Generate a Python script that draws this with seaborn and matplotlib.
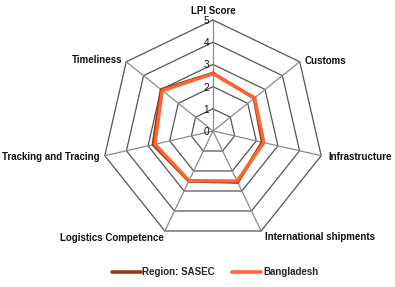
import numpy as np
import pandas as pd
import matplotlib
matplotlib.use("Agg")
import matplotlib.pyplot as plt
from matplotlib.lines import Line2D
import seaborn as sns

categories = ["LPI Score", "Customs", "Infrastructure", "International shipments",
              "Logistics Competence", "Tracking and Tracing", "Timeliness"]
sasec = [2.60, 2.38, 2.28, 2.56, 2.50, 2.76, 2.98]
bangladesh = [2.58, 2.40, 2.35, 2.50, 2.48, 2.68, 2.92]
series_names = ["Region: SASEC", "Bangladesh"]
r_ticks = [0, 1, 2, 3, 4, 5]

sns.set_style("white")
plt.rcParams["font.family"] = ["Liberation Sans", "DejaVu Sans"]

colors = {"Region: SASEC": "#9c3a0e", "Bangladesh": "#ff6633"}

n = len(categories)
angles = np.linspace(0, 2 * np.pi, n, endpoint=False)
closed = np.append(angles, 2 * np.pi)

rows = []
for name, vals in zip(series_names, [sasec, bangladesh]):
    for a, v in zip(closed, list(vals) + [vals[0]]):
        rows.append({"theta": a, "value": v, "series": name})
df = pd.DataFrame(rows)

fig = plt.figure(figsize=(3.95, 2.87), dpi=100)
ax = fig.add_axes([0.2582, 0.1568, 0.562, 0.7735], projection="polar")
ax.set_theta_offset(np.pi / 2)
ax.set_theta_direction(-1)
ax.set_ylim(0, max(r_ticks))
ax.grid(False)
ax.spines["polar"].set_visible(False)
ax.set_xticks([])
ax.set_yticks([])

for r in r_ticks[1:]:
    ax.plot(closed, [r] * (n + 1), color="#555555", lw=0.9, zorder=1, clip_on=False)
for a in angles:
    ax.plot([a, a], [0, max(r_ticks)], color="#8a8a8a", lw=0.9, zorder=1, clip_on=False)

sns.lineplot(data=df, x="theta", y="value", hue="series", hue_order=series_names,
             palette=colors, sort=False, linewidth=2.4, ax=ax, legend=False, zorder=3)
ax.set_xlabel("")
ax.set_ylabel("")

for r in r_ticks:
    ax.annotate(str(r), xy=(0, r), xytext=(-4, -1), textcoords="offset pixels",
                ha="right", va="center", fontsize=7.2, color="#111111")

label_pos = [
    ((0, 4), "center", "bottom"),
    ((5, 1), "left", "center"),
    ((7, -1), "left", "center"),
    ((4, -1), "left", "top"),
    ((-1, -2), "right", "top"),
    ((-5, -1), "right", "center"),
    ((-4, 2), "right", "center"),
]
for a, cat, (off, ha, va) in zip(angles, categories, label_pos):
    ax.annotate(cat, xy=(a, max(r_ticks)), xytext=off, textcoords="offset pixels",
                ha=ha, va=va, fontsize=7.0, fontweight="bold", color="#111111",
                annotation_clip=False)

handles = [Line2D([0], [0], color=colors[s], lw=2.6) for s in series_names]
fig.legend(handles, series_names, loc="center", bbox_to_anchor=(0.544, 0.052), ncol=2,
           frameon=False, handlelength=3.0, handletextpad=0.15, columnspacing=1.8,
           prop={"size": 7.0, "weight": "bold"})

fig.savefig("out.png", dpi=100, facecolor="white")
